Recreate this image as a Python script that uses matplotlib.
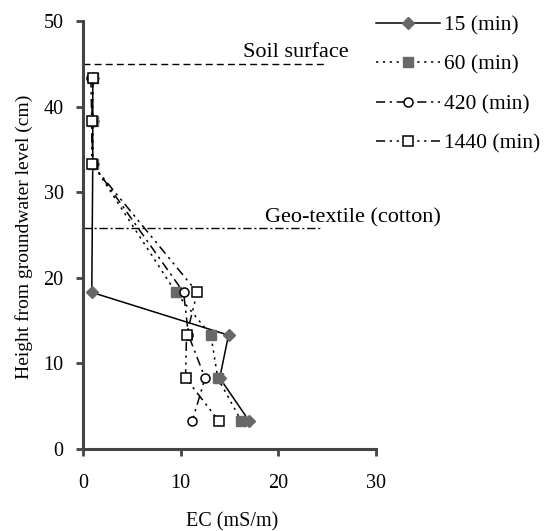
import matplotlib
matplotlib.use("Agg")
import matplotlib.pyplot as plt

plt.rcParams['font.family'] = ['Liberation Serif', 'DejaVu Serif']

# Sampling heights above the groundwater level (cm)
heights = [43.3, 38.3, 33.3, 18.3, 13.3, 8.3, 3.3]

# Electrical conductivity profiles (mS/m) after each elapsed time
ec_15 = [1.0, 1.0, 1.0, 0.9, 14.9, 14.0, 17.0]
ec_60 = [1.0, 1.0, 1.0, 9.5, 13.1, 13.8, 16.2]
ec_420 = [0.8, 0.9, 1.0, 10.3, 10.8, 12.5, 11.2]
ec_1440 = [1.0, 0.9, 0.9, 11.7, 10.6, 10.5, 13.9]

labels = ["15 (min)", "60 (min)", "420 (min)", "1440 (min)"]

# Reference levels
soil_surface = 45.0
geotextile = 25.8
ref_line_end = 25.0
geotextile_end = 24.5

x_ticks = [0, 10, 20, 30]
y_ticks = [0, 10, 20, 30, 40, 50]

fig = plt.figure(figsize=(5.5, 5.31), dpi=100)
ax = fig.add_axes([0.1509, 0.1544, 0.5327, 0.806])

gray = "#686868"
lw = 1.1

h1, = ax.plot(ec_15, heights, color="black", lw=lw, linestyle="-",
              marker="D", markersize=6.5, markerfacecolor=gray,
              markeredgecolor=gray, label=labels[0], zorder=3)
h2, = ax.plot(ec_60, heights, color="black", lw=lw, linestyle=(0, (1.5, 3)),
              marker="s", markersize=6.5, markerfacecolor=gray,
              markeredgecolor=gray, label=labels[1], zorder=3)
h3, = ax.plot(ec_420, heights, color="black", lw=lw,
              linestyle=(0, (6, 3, 1.5, 3)),
              marker="o", markersize=6.5, markerfacecolor="white",
              markeredgecolor="black", markeredgewidth=1.1,
              label=labels[2], zorder=4)
h4, = ax.plot(ec_1440, heights, color="black", lw=lw,
              linestyle=(0, (6, 3, 1.5, 3, 1.5, 3)),
              marker="s", markersize=6.5, markerfacecolor="white",
              markeredgecolor="black", markeredgewidth=1.1,
              label=labels[3], zorder=5)

# Soil surface and geo-textile layer
ax.plot([0, ref_line_end], [soil_surface, soil_surface], color="black",
        lw=1.0, linestyle=(0, (5, 3)))
ax.plot([0, geotextile_end], [geotextile, geotextile], color="black",
        lw=1.0, linestyle=(0, (6, 2, 1.5, 2)))
ax.text(16.4, 45.8, "Soil surface", fontsize=16,
        ha="left", va="baseline")
ax.text(18.6, 26.5, "Geo-textile (cotton)", fontsize=16,
        ha="left", va="baseline")

ax.set_xlim(0, 30)
ax.set_ylim(0, 50)
ax.set_xticks(x_ticks)
ax.set_yticks(y_ticks)
ax.tick_params(axis="both", direction="out", length=5, width=2,
               color="#444444", labelsize=14.5)
ax.tick_params(axis="x", pad=13)
ax.tick_params(axis="y", pad=9)

for side in ("top", "right"):
    ax.spines[side].set_visible(False)
for side in ("left", "bottom"):
    ax.spines[side].set_linewidth(2.2)
    ax.spines[side].set_color("#444444")

ax.set_xlabel("EC (mS/m)", fontsize=14.5)
ax.xaxis.set_label_coords(0.51, -0.147)
ax.set_ylabel("Height from groundwater level (cm)", fontsize=14)
ax.yaxis.set_label_coords(-0.172, 0.495)

fig.legend(handles=[h1, h2, h3, h4], loc="upper left",
           bbox_to_anchor=(0.648, 1.007), frameon=False, fontsize=15.5,
           handlelength=3.0, handletextpad=0.15, labelspacing=0.89,
           numpoints=1)

fig.savefig("out.png", dpi=100)
